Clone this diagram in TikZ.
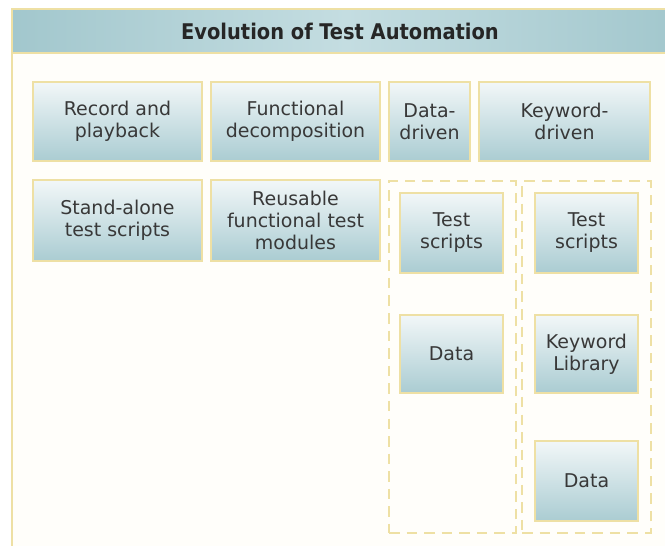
\documentclass[tikz,border=0pt]{standalone}
\usepackage{fontspec}
\setmainfont{DejaVu Sans}
\newfontfamily\titlefont{DejaVu Sans Condensed}
\definecolor{mSand}{HTML}{EEE0A4}
\definecolor{mSky}{HTML}{AACCD2}
\definecolor{mMist}{HTML}{F2F7F8}
\definecolor{mBand}{HTML}{A2C7CD}
\definecolor{mBandLt}{HTML}{C4DDE1}
\definecolor{mInk}{HTML}{383838}
\definecolor{mCream}{HTML}{FFFEFA}

\begin{document}
\begin{tikzpicture}[
  every node/.style={font=\fontsize{10.8}{12.5}\selectfont, text=mInk},
  box/.style={draw=mSand, line width=0.8pt, top color=mMist, bottom color=mSky,
              inner sep=0pt, align=center},
  lane/.style={draw=mSand, line width=0.8pt, dash pattern=on 6pt off 4pt,
               inner sep=0pt, minimum height=7.04cm},
]
  \useasboundingbox (0,0) rectangle (13.3,10.9);
  \fill[white] (0,0) rectangle (13.3,10.9);

  % Frame and title band
  \draw[mSand, line width=1pt, fill=mCream] (0.24,-0.3) rectangle (13.6,10.72);
  \draw[mSand, line width=0.8pt, left color=mBand, right color=mBand, middle color=mBandLt]
    (0.24,9.84) rectangle (13.6,10.72);
  \node[font=\titlefont\bfseries\fontsize{12.3}{14}\selectfont, text=black!85] (title) at (6.8,10.28)
    {Evolution of Test Automation};

  % First row
  \node[box, minimum width=3.38cm, minimum height=1.58cm] (record) at (2.35,8.47) {Record and\\playback};
  \node[box, minimum width=3.38cm, minimum height=1.58cm] (func) at (5.91,8.47) {Functional\\decomposition};
  \node[box, minimum width=1.62cm, minimum height=1.58cm] (data) at (8.59,8.47) {Data-\\driven};
  \node[box, minimum width=3.42cm, minimum height=1.58cm] (keyword) at (11.29,8.47) {Keyword-\\driven};

  % Second row
  \node[box, minimum width=3.38cm, minimum height=1.62cm] (standalone) at (2.35,6.49) {Stand-alone\\test scripts};
  \node[box, minimum width=3.38cm, minimum height=1.62cm] (reusable) at (5.91,6.49) {Reusable\\functional test\\modules};

  % Data-driven lane
  \node[lane, minimum width=2.54cm] (datalane) at (9.05,3.76) {};
  \node[box, minimum width=2.06cm, minimum height=1.6cm] (dscripts) at (9.03,6.24) {Test\\scripts};
  \node[box, minimum width=2.06cm, minimum height=1.56cm] (ddata) at (9.03,3.82) {Data};

  % Keyword-driven lane
  \node[lane, minimum width=2.58cm] (keylane) at (11.73,3.76) {};
  \node[box, minimum width=2.06cm, minimum height=1.6cm] (kscripts) at (11.73,6.24) {Test\\scripts};
  \node[box, minimum width=2.06cm, minimum height=1.56cm] (klib) at (11.73,3.82) {Keyword\\Library};
  \node[box, minimum width=2.06cm, minimum height=1.6cm] (kdata) at (11.73,1.28) {Data};
\end{tikzpicture}
\end{document}
